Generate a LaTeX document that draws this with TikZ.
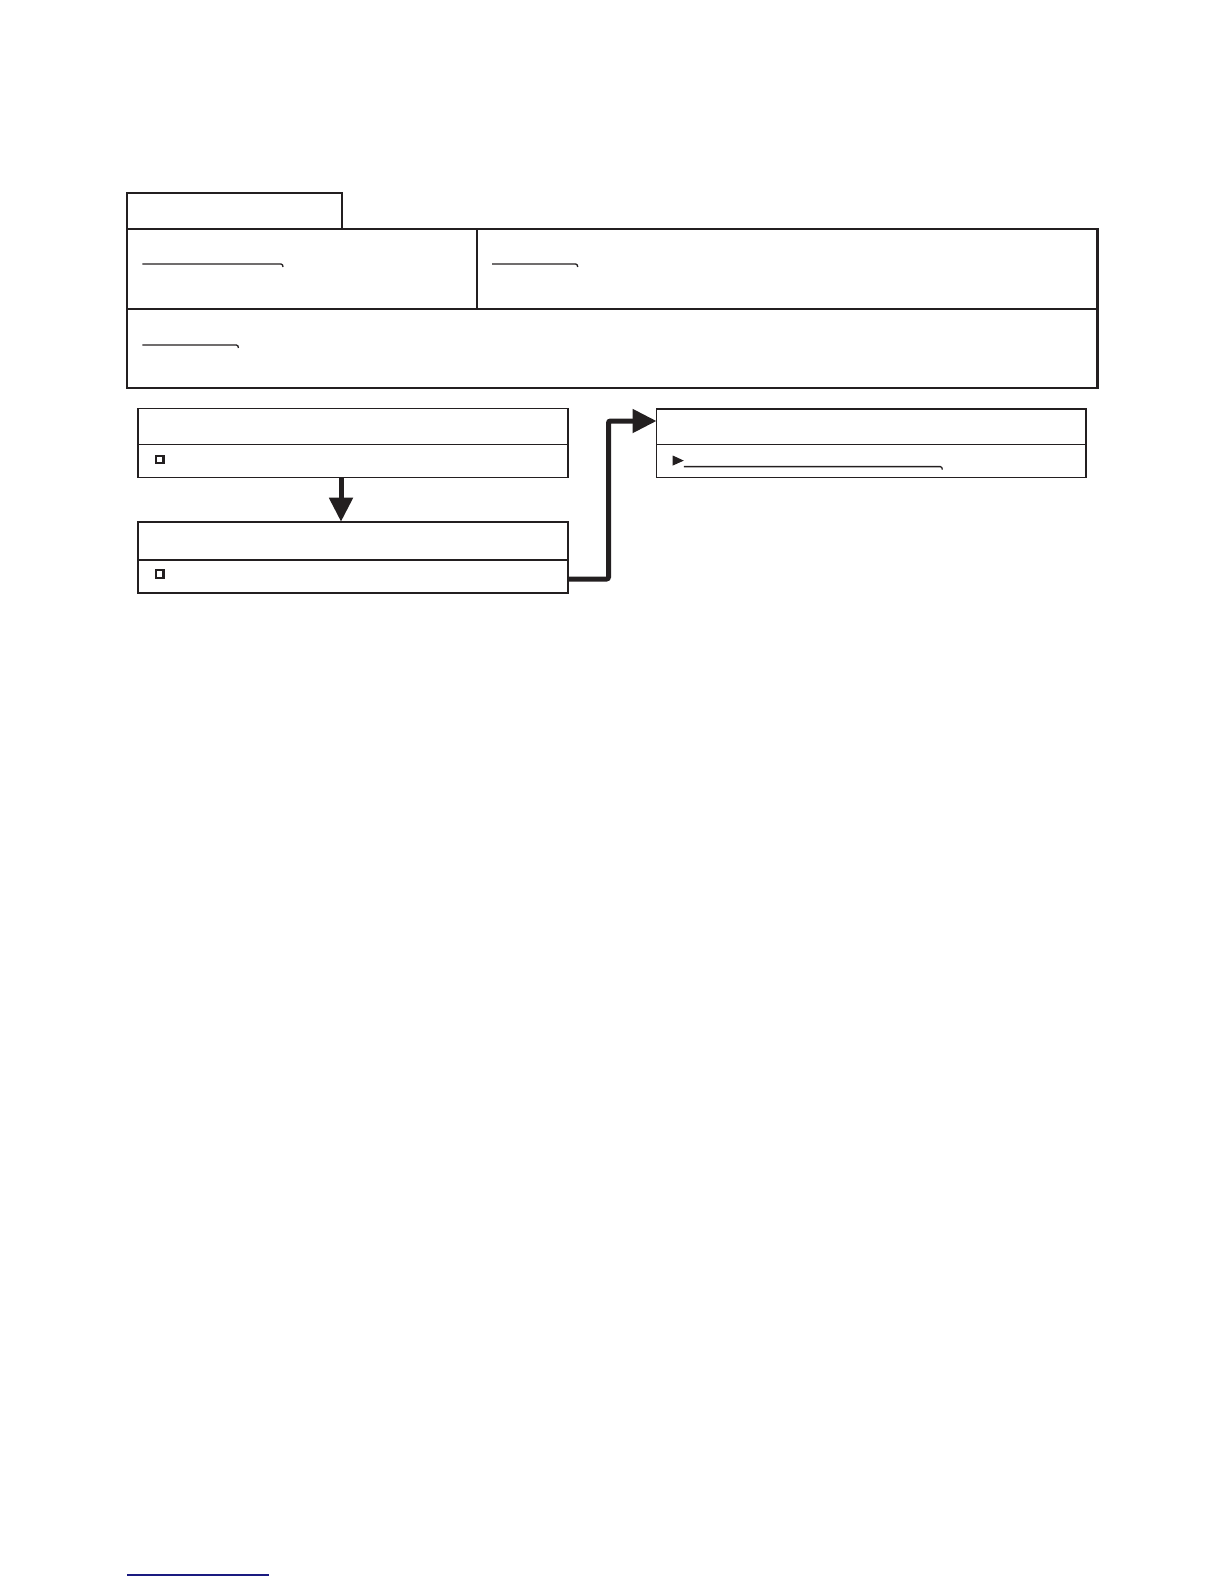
\documentclass[tikz,border=0pt]{standalone}
\usetikzlibrary{arrows.meta,fit}
\definecolor{ink}{HTML}{231F20}
\definecolor{linkblue}{HTML}{1A1A80}
\begin{document}
\begin{tikzpicture}[x=1pt,y=-1pt,
  frame/.style={draw=ink,line width=2.4pt,inner sep=0pt},
  tabbox/.style={draw=ink,line width=1.8pt,inner sep=0pt},
  panel/.style={draw=ink,line width=1.8pt,inner sep=0pt},
  divider/.style={draw=ink,line width=1.5pt},
  uline/.style={draw=ink,line width=1.3pt},
  chk/.style={draw=ink,line width=2.3pt,minimum size=7.5pt,inner sep=0pt},
  flow/.style={draw=ink,line width=5pt,-{Triangle[length=24pt,width=23pt]}},
  every node/.style={outer sep=0pt}]
\useasboundingbox (0,0) rectangle (1224,1584);
% tab and main header frame
\node[tabbox,fit={(126.7,193.3)(342.3,229)}] (tab) {};
\node[frame,fit={(126.7,229)(1097.3,387.7)}] (main) {};
\draw[ink,line width=2.4pt] (main.west |- 0,308.7) -- (main.east |- 0,308.7);
\draw[ink,line width=2.2pt] (477,229) -- (477,308.7);
% underlines with small hook
\draw[uline] (142.4,264) -- (281,264) to[out=0,in=90] (283,267);
\draw[uline] (492,264) -- (575.7,264) to[out=0,in=90] (577.7,267);
\draw[uline] (142.4,345) -- (236.4,345) to[out=0,in=90] (238.4,348);
% box A
\node[panel,fit={(138.3,408.5)(567.6,477.5)}] (boxA) {};
\draw[divider] (boxA.west |- 0,444.3) -- (boxA.east |- 0,444.3);
\node[chk] (chkA) at (159.6,459.5) {};
% box B
\node[panel,fit={(138.3,521.7)(567.6,592.7)}] (boxB) {};
\draw[divider] (boxB.west |- 0,560) -- (boxB.east |- 0,560);
\node[chk] (chkB) at (159.6,574) {};
% box C
\node[panel,fit={(656.5,409)(1086,477.5)}] (boxC) {};
\draw[divider] (boxC.west |- 0,444.3) -- (boxC.east |- 0,444.3);
\fill[ink] (672.7,455.5) -- (683.8,460.6) -- (672.7,465.6) -- cycle;
\draw[uline] (683.8,466.6) -- (940.3,466.6) to[out=0,in=90] (942.3,469.6);
% connectors
\coordinate (aout) at (341,477.5);
\draw[flow] (aout) -- (boxB.north -| aout);
\coordinate (bout) at (567.6,579);
\coordinate (cin) at (656.5,421);
\draw[flow,rounded corners=2pt] (bout) -- (608.5,579) -- (608.5,421) -- (cin);
% bottom blue rule
\draw[linkblue,line width=1.5pt] (127,1575) -- (269,1575);
\end{tikzpicture}
\end{document}
